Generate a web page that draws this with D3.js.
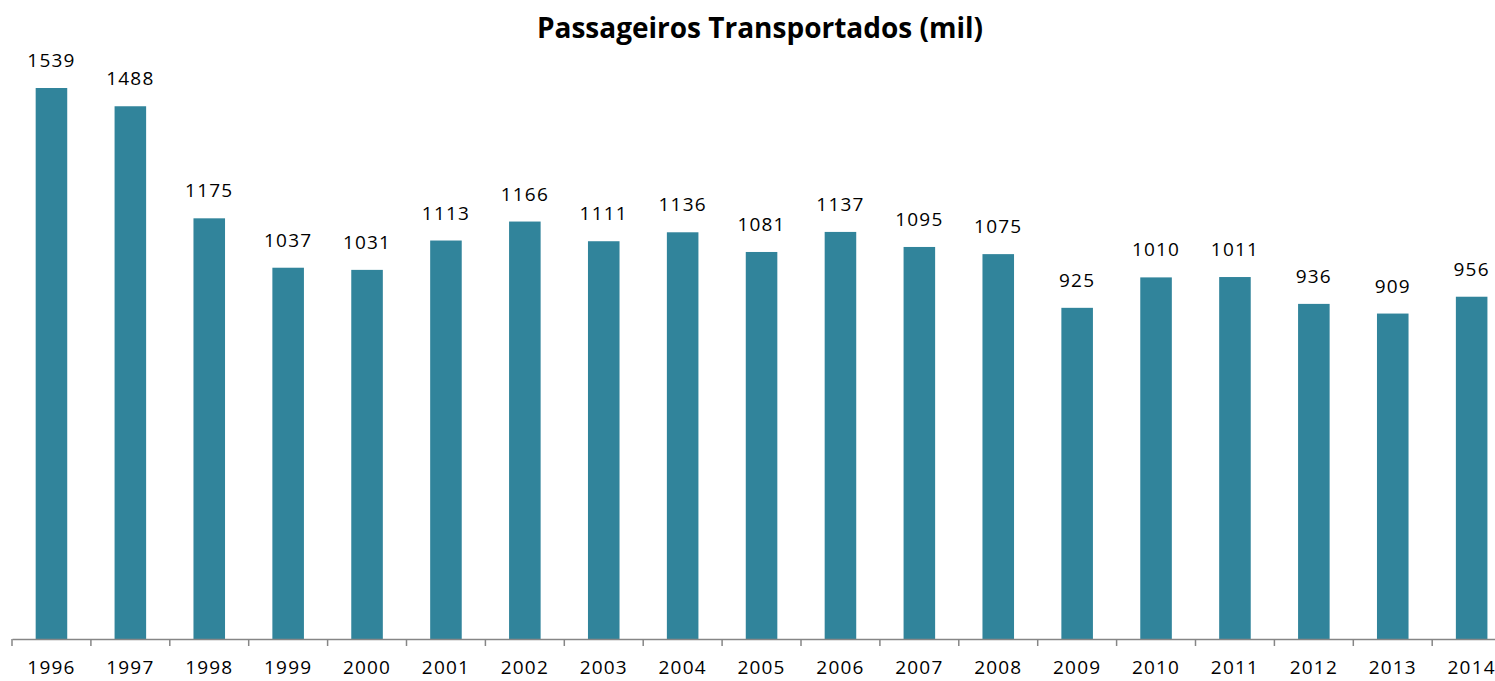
<!DOCTYPE html>
<html lang="pt">
<head>
<meta charset="UTF-8">
<title>Passageiros Transportados</title>
<script src="https://cdn.jsdelivr.net/npm/d3@7"></script>
<style>
  body { margin: 0; background: #fff; }
  svg { display: block; font-family: "Open Sans", "Noto Sans", sans-serif; }
</style>
</head>
<body>
<script>
const years = ["1996","1997","1998","1999","2000","2001","2002","2003","2004","2005",
               "2006","2007","2008","2009","2010","2011","2012","2013","2014"];
const passengers = [1539,1488,1175,1037,1031,1113,1166,1111,1136,1081,
                    1137,1095,1075,925,1010,1011,936,909,956];
const title = "Passageiros Transportados (mil)";

const width = 1495, height = 681;
const left = 12, bandW = 78.9, baseY = 639, topY = 88;

const svg = d3.select("body").append("svg")
    .attr("width", width).attr("height", height);

const x = d3.scaleBand()
    .domain(years)
    .range([left, left + bandW * years.length])
    .paddingInner(0.6).paddingOuter(0.3);

// 1539 sits at y=88
const y = d3.scaleLinear()
    .domain([0, 1539])
    .range([baseY, topY]);

svg.selectAll("rect.bar")
  .data(years)
  .join("rect")
    .attr("class", "bar")
    .attr("x", d => x(d))
    .attr("width", x.bandwidth())
    .attr("y", (d, i) => y(passengers[i]))
    .attr("height", (d, i) => baseY - y(passengers[i]))
    .attr("fill", "#31849b");

svg.selectAll("text.val")
  .data(years)
  .join("text")
    .attr("class", "val")
    .attr("x", d => x(d) + x.bandwidth() / 2)
    .attr("y", (d, i) => y(passengers[i]) - 21)
    .attr("text-anchor", "middle")
    .attr("font-size", 19)
    .attr("letter-spacing", 1.2)
    .attr("fill", "#000")
    .text((d, i) => passengers[i]);

// category axis
const axis = d3.axisBottom(x).tickSize(0).tickPadding(22);
const gx = svg.append("g").attr("transform", `translate(0,${baseY})`).call(axis);
gx.select(".domain").attr("stroke", "#868686").attr("stroke-width", 1.5);
gx.selectAll(".tick text").attr("font-size", 19).attr("letter-spacing", 1.2).attr("fill", "#000")
  .attr("font-family", "'Open Sans', 'Noto Sans', sans-serif");

// tick marks between categories
const bounds = d3.range(years.length + 1).map(i => left + i * bandW);
svg.append("g").selectAll("line")
  .data(bounds)
  .join("line")
    .attr("x1", d => d).attr("x2", d => d)
    .attr("y1", baseY).attr("y2", baseY + 7)
    .attr("stroke", "#868686").attr("stroke-width", 1.5);

svg.append("text")
    .attr("x", 760).attr("y", 38)
    .attr("text-anchor", "middle")
    .attr("font-size", 28)
    .attr("font-weight", "bold")
    .attr("fill", "#000")
    .text(title);
</script>
</body>
</html>
